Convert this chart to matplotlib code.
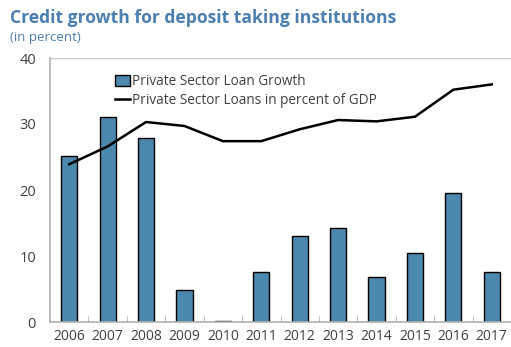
import matplotlib
matplotlib.use("Agg")
import matplotlib.pyplot as plt
import numpy as np

plt.rcParams['font.family'] = ['Open Sans', 'DejaVu Sans']

years = ['2006', '2007', '2008', '2009', '2010', '2011',
         '2012', '2013', '2014', '2015', '2016', '2017']
loan_growth = [25.2, 31.1, 27.9, 4.8, 0.1, 7.6, 13.0, 14.2, 6.8, 10.5, 19.5, 7.6]
loans_gdp = [23.9, 26.6, 30.3, 29.7, 27.4, 27.4, 29.2, 30.6, 30.4, 31.1, 35.2, 36.0]

bar_color = '#4a88ad'
grey = '#404040'

fig = plt.figure(figsize=(5.11, 3.47), dpi=100)
ax = fig.add_axes([50 / 511, 25 / 347, 461 / 511, 264 / 347])

x = np.arange(len(years))
bars = ax.bar(x, loan_growth, width=0.42, color=bar_color, edgecolor='black',
              linewidth=1.0, zorder=2)
line, = ax.plot(x, loans_gdp, color='black', linewidth=1.8, zorder=3)

ax.set_xlim(-0.5, 11.5)
ax.set_ylim(0, 40)
ax.set_yticks([0, 10, 20, 30, 40])
ax.axhline(40, color='#c8c8c8', linewidth=1.0, zorder=1)

ax.set_xticks(x)
ax.set_xticklabels(years)
ax.set_xticks(np.arange(0.5, 11.5, 1), minor=True)
ax.tick_params(axis='x', which='major', length=0, pad=5, labelsize=10, colors=grey)
ax.tick_params(axis='x', which='minor', length=4, direction='in', color='#b0b0b0')
ax.tick_params(axis='y', length=0, pad=10, labelsize=10.5, colors=grey)

for side in ['top', 'right']:
    ax.spines[side].set_visible(False)
for side in ['left', 'bottom']:
    ax.spines[side].set_color('#b0b0b0')
    ax.spines[side].set_linewidth(1.2)

leg = ax.legend([bars, line],
                ['Private Sector Loan Growth', 'Private Sector Loans in percent of GDP'],
                loc='upper left', bbox_to_anchor=(0.13, 0.96), frameon=False,
                fontsize=9.8, handlelength=1.1, handleheight=0.9, handletextpad=0.15,
                labelspacing=0.3, borderaxespad=0)
for t in leg.get_texts():
    t.set_color(grey)

fig.text(10 / 511, 1 - 18 / 347, 'Credit growth for deposit taking institutions',
         fontsize=12.6, fontweight='bold', color='#4a7fb0', va='center')
fig.text(10 / 511, 1 - 38 / 347, '(in percent)', fontsize=9.5,
         color='#4a7fb0', va='center')

fig.savefig('out.png', dpi=100)
